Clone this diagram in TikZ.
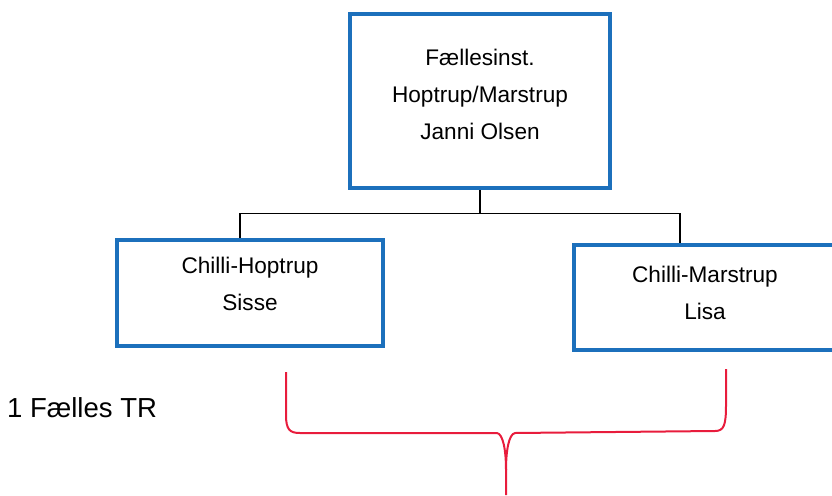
\documentclass[tikz,border=0pt]{standalone}
\usepackage{fontspec}
\setmainfont{Liberation Sans}
\definecolor{boxblue}{RGB}{28,112,188}
\definecolor{bracered}{RGB}{232,28,60}

\begin{document}
\begin{tikzpicture}[x=1pt,y=-1pt,
        unit/.style={draw=boxblue,line width=3.5pt,inner sep=0pt,align=center,
                     font=\fontsize{22.6}{37}\selectfont},
        link/.style={line width=1.3pt},
        brace/.style={draw=bracered,line width=2pt,line join=round}]
    \useasboundingbox (0,0) rectangle (832,495);

    \node[unit,minimum width=260pt,minimum height=174pt,text depth=13pt] at (480,101) (top) {F\ae llesinst.\\Hoptrup/Marstrup\\Janni Olsen};
    \node[unit,minimum width=266pt,minimum height=106pt,text depth=19pt] at (250,293) (sisse) {Chilli-Hoptrup\\Sisse};
    \node[unit,minimum width=262pt,minimum height=105pt,text depth=10pt] at (705,297.5) (lisa) {Chilli-Marstrup\\Lisa};
    \node[anchor=base west,inner sep=0pt,font=\fontsize{27.5}{33}\selectfont] at (7,417) (tr) {1 F\ae lles TR};

    % tree lines
    \draw[link] (top.south) -- ++(0,24) coordinate (bus);
    \draw[link] ([xshift=-10pt]sisse.north) |- (bus) -| ([xshift=-25pt]lisa.north);

    % red brace under the two units
    \draw[brace] (286,372) -- (286,415) .. controls (286,430) and (290,433) .. (300,433)
        -- (497,433) .. controls (503,434) and (506,450) .. (506,470) -- (506,495);
    \draw[brace] (506,470) .. controls (506,450) and (509,434) .. (515,433)
        -- (715,431) .. controls (724,431) and (726,425) .. (726,405) -- (726,369);
\end{tikzpicture}
\end{document}
